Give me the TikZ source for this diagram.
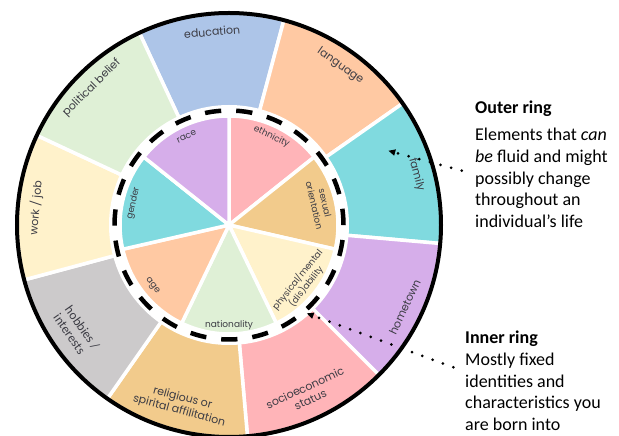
\documentclass[tikz,border=0pt]{standalone}
\usepackage{fontspec}
\setmainfont{Carlito}
\newfontfamily\ringfont{Poppins}
\usetikzlibrary{arrows.meta,positioning,calc}

\definecolor{cblue}{HTML}{ADC5E8}
\definecolor{cpeach}{HTML}{FFC9A3}
\definecolor{cteal}{HTML}{80DADF}
\definecolor{clilac}{HTML}{D6AEEA}
\definecolor{cpink}{HTML}{FFB4B8}
\definecolor{ctan}{HTML}{F2CB8C}
\definecolor{cgray}{HTML}{CCCACB}
\definecolor{ccream}{HTML}{FFF2CB}
\definecolor{cmint}{HTML}{DFF0D6}
\definecolor{ink}{HTML}{3C3C44}

\begin{document}
\begin{tikzpicture}[
    x=1pt, y=1pt,
    seg/.style={draw=white, line width=3.5pt, line join=round},
    lbl/.style={font=\ringfont\fontsize{11}{13}\selectfont, text=ink, align=center, inner sep=0pt},
    ilbl/.style={lbl, font=\ringfont\fontsize{9}{11}\selectfont},
    note/.style={font=\fontsize{18}{21.6}\selectfont, align=left, anchor=north west, inner sep=0pt},
    pointer/.style={-{Triangle[length=7pt, width=6pt]}, line width=3pt, line cap=round, dash pattern=on 0pt off 11pt}
]
\useasboundingbox (0,0) rectangle (619,436);
\coordinate (c) at (229,211);

% Outer ring
\filldraw[seg, fill=cblue]  (c) -- ++(75:212)   arc[start angle=75,   end angle=115,  radius=212] -- cycle;
\filldraw[seg, fill=cpeach] (c) -- ++(35:212)   arc[start angle=35,   end angle=75,   radius=212] -- cycle;
\filldraw[seg, fill=cteal]  (c) -- ++(-5:212)   arc[start angle=-5,   end angle=35,   radius=212] -- cycle;
\filldraw[seg, fill=clilac] (c) -- ++(-45:212)  arc[start angle=-45,  end angle=-5,   radius=212] -- cycle;
\filldraw[seg, fill=cpink]  (c) -- ++(-85:212)  arc[start angle=-85,  end angle=-45,  radius=212] -- cycle;
\filldraw[seg, fill=ctan]   (c) -- ++(-125:212) arc[start angle=-125, end angle=-85,  radius=212] -- cycle;
\filldraw[seg, fill=cgray]  (c) -- ++(-165:212) arc[start angle=-165, end angle=-125, radius=212] -- cycle;
\filldraw[seg, fill=ccream] (c) -- ++(155:212)  arc[start angle=155,  end angle=195,  radius=212] -- cycle;
\filldraw[seg, fill=cmint]  (c) -- ++(115:212)  arc[start angle=115,  end angle=155,  radius=212] -- cycle;
\draw[line width=4pt] (c) circle[radius=212];

\node[lbl, rotate=5]   (edu)   at ($(c)+(95:194)$)   {education};
\node[lbl, rotate=-35] (lang)  at ($(c)+(55:194)$)   {language};
\node[lbl, rotate=-75] (fam)   at ($(c)+(15:194)$)   {family};
\node[lbl, rotate=65]  (home)  at ($(c)+(-25:194)$)  {hometown};
\node[lbl, rotate=25]  (socio) at ($(c)+(-65:186)$)  {socioeconomic\\status};
\node[lbl, rotate=-15] (relig) at ($(c)+(-105:186)$) {religious or\\spirital affilitation};
\node[lbl, rotate=-55, align=left, font=\fontsize{13}{14}\selectfont] (hobby) at ($(c)+(-145:186)$) {hobbies /\\interests};
\node[lbl, rotate=85]  (work)  at ($(c)+(175:194)$)  {work / job};
\node[lbl, rotate=45]  (polit) at ($(c)+(135:194)$)  {political belief};

% Inner ring
\fill[white] (c) circle[radius=120];
\filldraw[seg, fill=cpink]  (c) -- ++(38.571:109)   arc[start angle=38.571,   end angle=90,       radius=109] -- cycle;
\filldraw[seg, fill=ctan]   (c) -- ++(-12.857:109)  arc[start angle=-12.857,  end angle=38.571,   radius=109] -- cycle;
\filldraw[seg, fill=ccream] (c) -- ++(-64.286:109)  arc[start angle=-64.286,  end angle=-12.857,  radius=109] -- cycle;
\filldraw[seg, fill=cmint]  (c) -- ++(-115.714:109) arc[start angle=-115.714, end angle=-64.286,  radius=109] -- cycle;
\filldraw[seg, fill=cpeach] (c) -- ++(-167.143:109) arc[start angle=-167.143, end angle=-115.714, radius=109] -- cycle;
\filldraw[seg, fill=cteal]  (c) -- ++(141.429:109)  arc[start angle=141.429,  end angle=192.857,  radius=109] -- cycle;
\filldraw[seg, fill=clilac] (c) -- ++(90:109)       arc[start angle=90,       end angle=141.429,  radius=109] -- cycle;
\draw[line width=4.5pt, dash pattern=on 16.28pt off 15pt] (c) circle[radius=114.5];

\node[ilbl, rotate=-25.71] (ethn) at ($(c)+(64.29:98)$)   {ethnicity};
\node[ilbl, rotate=-77.14] (sex)  at ($(c)+(12.86:93)$)   {sexual\\orientation};
\node[ilbl, rotate=51.43]  (abil) at ($(c)+(-38.57:93)$)  {physical/mental\\(dis)ability};
\node[ilbl]                (nat)  at ($(c)+(-90:100)$)    {nationality};
\node[ilbl, rotate=-51.43] (age)  at ($(c)+(-141.43:98)$) {age};
\node[ilbl, rotate=77.14]  (gend) at ($(c)+(167.14:98)$)  {gender};
\node[ilbl, rotate=25.71]  (race) at ($(c)+(115.71:98)$)  {race};

% Notes
\node[note] (outernote) at (475,335) {\textbf{Outer ring}\\[5.4pt]Elements that \textit{can}\\\textit{be} fluid and might\\possibly change\\throughout an\\individual’s life};
\node[note] (innernote) at (465,105) {\textbf{Inner ring}\\Mostly fixed\\identities and\\characteristics you\\are born into};

\coordinate (outsrc) at (461.7,265.3);
\coordinate (outtip) at (388.3,285.3);
\coordinate (insrc)  at (453.3,68.7);
\coordinate (intip)  at (306.7,122.7);
\draw[pointer] (outsrc) -- (outtip);
\draw[pointer] (insrc) -- (intip);
\end{tikzpicture}
\end{document}
